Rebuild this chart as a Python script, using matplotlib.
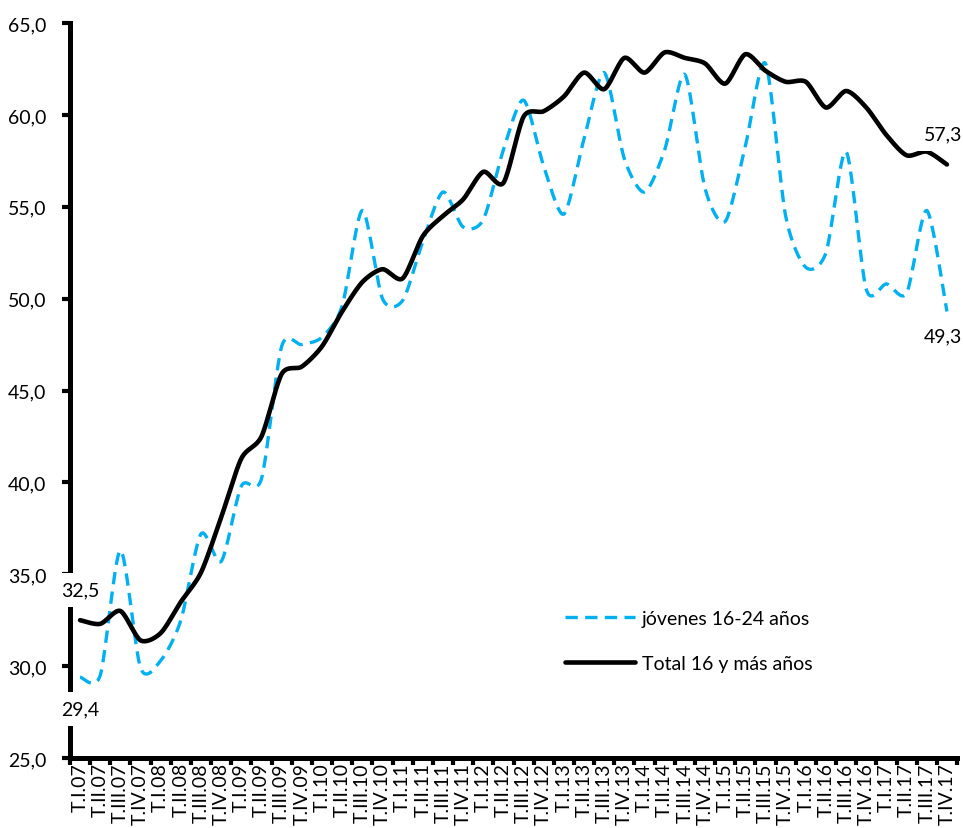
import numpy as np
import matplotlib
matplotlib.use("Agg")
import matplotlib.pyplot as plt

# quarters T.I.07 .. T.IV.17
years = [f"{y:02d}" for y in range(7, 18)]
quarters = ["I", "II", "III", "IV"]
labels = [f"T.{q}.{y}" for y in years for q in quarters]

jovenes = [29.4, 29.5, 36.3, 29.9, 30.3, 32.5, 37.2, 35.7, 39.8, 40.2,
           47.4, 47.5, 47.9, 49.6, 54.8, 50.0, 49.9, 53.1, 55.8, 53.9,
           54.3, 58.1, 60.8, 57.2, 54.6, 58.7, 62.3, 57.6, 55.8, 58.1,
           62.2, 56.0, 54.2, 58.3, 62.8, 54.5, 51.7, 52.5, 58.0, 50.5,
           50.8, 50.3, 54.8, 49.3]
total = [32.5, 32.3, 33.0, 31.4, 31.8, 33.5, 35.1, 38.1, 41.3, 42.5,
         45.9, 46.3, 47.4, 49.3, 50.9, 51.6, 51.1, 53.4, 54.5, 55.4,
         56.9, 56.3, 59.9, 60.2, 61.0, 62.3, 61.4, 63.1, 62.3, 63.4,
         63.1, 62.8, 61.7, 63.3, 62.4, 61.8, 61.8, 60.4, 61.3, 60.4,
         58.9, 57.8, 58.0, 57.3]

BLUE = "#00B0F0"


def smooth(y, n=20, k=7.5):
    # Excel-like smoothed line: cubic Bezier through the points
    y = np.asarray(y, dtype=float)
    x = np.arange(len(y), dtype=float)
    P = np.column_stack([x, y])
    Pe = np.vstack([P[0], P, P[-1]])
    xs, ys = [], []
    t = np.linspace(0, 1, n, endpoint=False)[:, None]
    for i in range(len(P) - 1):
        p0, p1, p2, p3 = Pe[i], Pe[i + 1], Pe[i + 2], Pe[i + 3]
        c1 = p1 + (p2 - p0) / k
        c2 = p2 - (p3 - p1) / k
        b = ((1 - t) ** 3) * p1 + 3 * ((1 - t) ** 2) * t * c1 \
            + 3 * (1 - t) * t ** 2 * c2 + t ** 3 * p2
        xs.append(b[:, 0])
        ys.append(b[:, 1])
    xs.append([P[-1, 0]])
    ys.append([P[-1, 1]])
    return np.concatenate(xs), np.concatenate(ys)


plt.rcParams["font.family"] = ["Lato", "DejaVu Sans"]

fig = plt.figure(figsize=(9.63, 8.29), dpi=100)
ax = fig.add_axes([70 / 963, 1 - 759 / 829, 887 / 963, 735 / 829])

xj, yj = smooth(jovenes)
xt, yt = smooth(total)
ax.plot(xj, yj, color=BLUE, lw=2.4, ls=(0, (3.7, 2.2)),
        label="jóvenes 16-24 años")
ax.plot(xt, yt, color="black", lw=3.3, label="Total 16 y más años",
        solid_capstyle="round")

n = len(labels)
ax.set_xlim(-0.5, n - 0.5)
ax.set_ylim(25, 65)
ax.set_yticks(np.arange(25, 66, 5))
ax.set_yticklabels([f"{v:.1f}".replace(".", ",") for v in np.arange(25, 66, 5)],
                   fontsize=14)
ax.set_xticks(np.arange(n))
ax.set_xticklabels(labels, rotation=90, fontsize=14)
ax.set_xticks(np.arange(n + 1) - 0.5, minor=True)
ax.tick_params(axis="x", which="major", length=0, pad=3)
ax.tick_params(axis="x", which="minor", length=5, width=3, direction="out")
ax.tick_params(axis="y", length=6, width=3, direction="out", pad=11)

for s in ["top", "right"]:
    ax.spines[s].set_visible(False)
for s in ["left", "bottom"]:
    ax.spines[s].set_linewidth(3.6)
    ax.spines[s].set_capstyle("projecting")


def lab(x, y, dx, dy):
    ax.annotate(f"{y:.1f}".replace(".", ","), (x, y), xytext=(dx, dy),
                textcoords="offset points", ha="center", va="center",
                fontsize=14, annotation_clip=False, zorder=5,
                bbox=dict(fc="white", ec="none", pad=6))


lab(0, total[0], 0, 21.5)
lab(0, jovenes[0], 0, -23)
lab(n - 1, total[-1], -3, 22)
lab(n - 1, jovenes[-1], -3, -17.5)

ax.legend(loc="center left", bbox_to_anchor=(565 / 963, 1 - 642 / 829),
          bbox_transform=fig.transFigure, frameon=False, fontsize=14,
          handlelength=3.6, handletextpad=0.35, labelspacing=1.45,
          borderpad=0, borderaxespad=0)

fig.savefig("out.png", dpi=100)
